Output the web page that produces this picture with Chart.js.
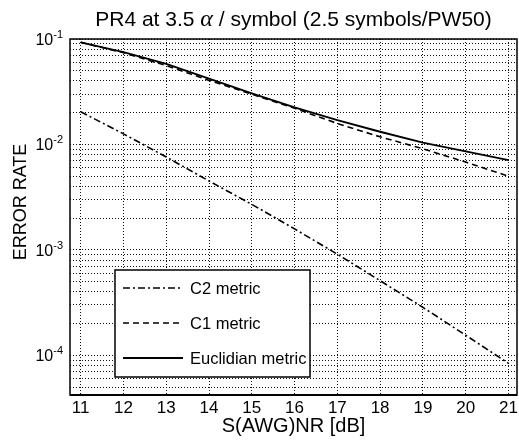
<!DOCTYPE html>
<html lang="en">
<head>
  <meta charset="UTF-8">
  <title>PR4 error rate</title>
  <script src="https://cdn.jsdelivr.net/npm/chart.js"></script>
  <style>
    html, body { margin: 0; padding: 0; background: #fff; }
    #wrap { width: 519px; height: 441px; }
  </style>
</head>
<body>
  <div id="wrap"><canvas id="errChart" width="519" height="441"></canvas></div>

  <script>
    // data
    const snr = [11, 12, 13, 14, 15, 16, 17, 18, 19, 20, 21];
    const c2Metric = [0.0204, 0.0126, 0.0076, 0.0045, 0.0027, 0.00158, 0.00091, 0.00051, 0.000285, 0.000155, 0.000084];
    const c1Metric = [0.093, 0.074, 0.056, 0.0405, 0.030, 0.022, 0.0158, 0.0118, 0.0091, 0.0068, 0.0050];
    const euclidMetric = [0.093, 0.075, 0.058, 0.042, 0.0305, 0.0225, 0.017, 0.0132, 0.0104, 0.0086, 0.0071];

    const xTicks = [11, 12, 13, 14, 15, 16, 17, 18, 19, 20, 21];
    const yDecades = [-1, -2, -3, -4];
    const seriesLabels = ['C2 metric', 'C1 metric', 'Euclidian metric'];

    const X_MIN = 10.75, X_MAX = 21.2;
    const Y_MIN = 4.2e-5, Y_MAX = 0.1;
    const FONT = '"Liberation Sans", Arial, Helvetica, sans-serif';

    function pts(vals) { return snr.map((x, i) => ({ x: x, y: vals[i] })); }

    // y grid at 1..9 x 10^n inside the range
    function logGrid() {
      const out = [];
      for (let e = -5; e <= -1; e++) {
        for (let m = 1; m <= 9; m++) {
          const v = m * Math.pow(10, e);
          if (v >= Y_MIN * 0.999 && v <= Y_MAX * 1.001) out.push({ value: v });
        }
      }
      return out;
    }

    // title, axis titles, y tick labels, frame and legend
    const decorate = {
      id: 'decorate',
      afterDraw(chart) {
        const ctx = chart.ctx;
        const a = chart.chartArea;
        const ys = chart.scales.y;
        ctx.save();
        ctx.fillStyle = '#000';

        // title
        const t1 = 'PR4 at 3.5 ', t2 = '\u03B1', t3 = ' / symbol (2.5 symbols/PW50)';
        ctx.textBaseline = 'alphabetic';
        ctx.font = '21px ' + FONT;
        const w1 = ctx.measureText(t1).width, w3 = ctx.measureText(t3).width;
        ctx.font = 'italic 24px "Liberation Serif", "DejaVu Serif", serif';
        const w2 = ctx.measureText(t2).width;
        let tx = (a.left + a.right) / 2 - (w1 + w2 + w3) / 2;
        ctx.textAlign = 'left';
        ctx.font = '21px ' + FONT;
        ctx.fillText(t1, tx, 26);
        ctx.font = 'italic 24px "Liberation Serif", "DejaVu Serif", serif';
        ctx.fillText(t2, tx + w1, 26);
        ctx.font = '21px ' + FONT;
        ctx.fillText(t3, tx + w1 + w2, 26);

        // y tick labels 10^n
        yDecades.forEach(e => {
          const py = ys.getPixelForValue(Math.pow(10, e));
          ctx.font = '11px ' + FONT;
          const sup = String(e);
          const ws = ctx.measureText(sup).width;
          ctx.textAlign = 'right';
          ctx.fillText(sup, 63, py - 1);
          ctx.font = '16px ' + FONT;
          ctx.fillText('10', 63 - ws, py + 6);
        });

        // y axis title
        ctx.save();
        ctx.translate(26, 202);
        ctx.rotate(-Math.PI / 2);
        ctx.textAlign = 'center';
        ctx.font = '18px ' + FONT;
        ctx.fillText('ERROR RATE', 0, 0);
        ctx.restore();

        // x axis title
        ctx.textAlign = 'center';
        ctx.font = '20px ' + FONT;
        ctx.fillText('S(AWG)NR [dB]', (a.left + a.right) / 2, 432);

        // frame
        ctx.strokeStyle = '#000';
        ctx.lineWidth = 1.5;
        ctx.strokeRect(a.left, a.top, a.right - a.left, a.bottom - a.top);
        ctx.lineWidth = 2;
        ctx.beginPath();
        ctx.moveTo(a.left, a.bottom);
        ctx.lineTo(a.right, a.bottom);
        ctx.stroke();

        // legend box
        const lx = 115, ly = 270, lw = 195, lh = 107;
        ctx.lineWidth = 1.5;
        ctx.fillStyle = '#fff';
        ctx.fillRect(lx, ly, lw, lh);
        ctx.strokeRect(lx, ly, lw, lh);
        const rows = [288, 323, 358];
        chart.data.datasets.forEach((ds, i) => {
          ctx.beginPath();
          ctx.setLineDash(ds.borderDash || []);
          ctx.lineWidth = ds.borderWidth;
          ctx.moveTo(123, rows[i]);
          ctx.lineTo(183, rows[i]);
          ctx.stroke();
          ctx.setLineDash([]);
          ctx.fillStyle = '#000';
          ctx.textAlign = 'left';
          ctx.textBaseline = 'middle';
          ctx.font = '16.5px ' + FONT;
          ctx.fillText(ds.label, 190, rows[i] + 1);
        });
        ctx.restore();
      }
    };

    const ctx = document.getElementById('errChart').getContext('2d');
    const errChart = new Chart(ctx, {
      type: 'line',
      data: {
        datasets: [
          { label: seriesLabels[0], data: pts(c2Metric), borderColor: '#000', borderWidth: 1.6, borderDash: [7, 3, 2, 3], pointRadius: 0, fill: false, tension: 0 },
          { label: seriesLabels[1], data: pts(c1Metric), borderColor: '#000', borderWidth: 1.6, borderDash: [6, 4], pointRadius: 0, fill: false, tension: 0 },
          { label: seriesLabels[2], data: pts(euclidMetric), borderColor: '#000', borderWidth: 1.9, pointRadius: 0, fill: false, tension: 0 }
        ]
      },
      options: {
        responsive: false,
        animation: false,
        layout: { padding: { top: 39, right: 2, left: 0, bottom: 0 } },
        plugins: { legend: { display: false }, title: { display: false }, tooltip: { enabled: false } },
        scales: {
          x: {
            type: 'linear', min: X_MIN, max: X_MAX,
            afterBuildTicks: s => { s.ticks = xTicks.map(v => ({ value: v })); },
            afterFit: s => { s.height = 46; s.paddingLeft = 0; s.paddingRight = 0; },
            grid: { color: '#111', lineWidth: 1, drawTicks: false },
            border: { display: false, dash: [1, 2] },
            ticks: { color: '#000', padding: 3, font: { family: FONT, size: 17 }, maxRotation: 0, autoSkip: false, callback: v => String(v) }
          },
          y: {
            type: 'logarithmic', min: Y_MIN, max: Y_MAX,
            afterBuildTicks: s => { s.ticks = logGrid(); },
            afterFit: s => { s.width = 70; },
            grid: { color: '#111', lineWidth: 1, drawTicks: false },
            border: { display: false, dash: [1, 2] },
            ticks: { display: false, autoSkip: false }
          }
        }
      },
      plugins: [decorate]
    });
  </script>
</body>
</html>
